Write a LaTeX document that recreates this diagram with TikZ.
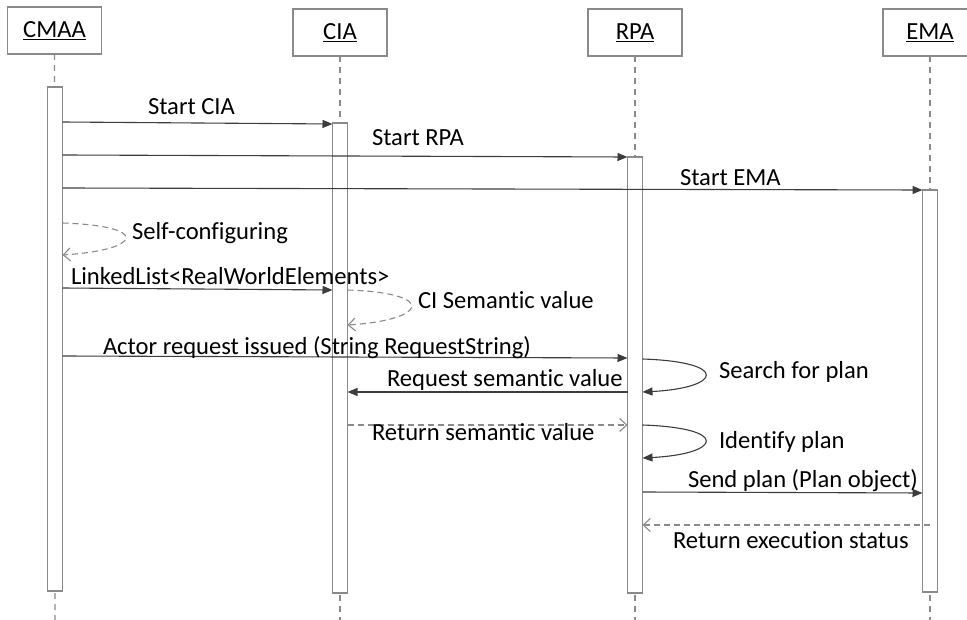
\documentclass[tikz,border=0pt]{standalone}
\usepackage{fontspec}
\setmainfont[Ligatures=NoCommon]{Carlito}
\usetikzlibrary{arrows.meta}
\definecolor{boxgray}{HTML}{8A8A8A}
\definecolor{msggray}{HTML}{3C3C3C}
\begin{document}
\begin{tikzpicture}[x=1pt,y=-1pt,
  every node/.style={font=\fontsize{24.6}{28}\selectfont, inner sep=0pt, outer sep=0pt},
  objbox/.style={draw=boxgray, line width=1.1pt, fill=white, minimum width=94pt, minimum height=47pt},
  actbar/.style={draw=boxgray, line width=1.3pt, fill=white, minimum width=15pt},
  lifeline/.style={draw=boxgray, line width=1.3pt, dash pattern=on 6pt off 5pt},
  msg/.style={draw=msggray, line width=1.1pt, -{Triangle[length=10pt,width=8pt]}},
  selfmsg/.style={draw=msggray, line width=1.1pt, -{Triangle[length=10pt,width=8pt]}},
  reply/.style={draw=boxgray, line width=1.1pt, dash pattern=on 6pt off 4pt, -{Straight Barb[length=7pt,width=13pt]}},
  lbl/.style={anchor=base west, text=black}]
\useasboundingbox (0,0) rectangle (967,620);
\clip (0,0) rectangle (967,620);

% lifeline heads
\node[objbox] (cmaa) at (54.5,30.5) {\underline{CMAA}};
\node[objbox] (cia)  at (340,32.5)  {\underline{CIA}};
\node[objbox] (rpa)  at (635,32.5)  {\underline{RPA}};
\node[objbox] (ema)  at (930,32.5)  {\underline{EMA}};

% lifeline ends
\coordinate (cmaaend) at (55,622);
\coordinate (ciaend)  at (340,622);
\coordinate (rpaend)  at (635,622);
\coordinate (emaend)  at (930,622);

\draw[lifeline] (cmaa.south) -- (cmaaend);
\draw[lifeline] (cia.south)  -- (ciaend);
\draw[lifeline] (rpa.south)  -- (rpaend);
\draw[lifeline] (ema.south)  -- (emaend);

% activation bars
\node[actbar, minimum height=504pt] (cmaabar) at (55,339)  {};
\node[actbar, minimum height=470pt] (ciabar)  at (340,358) {};
\node[actbar, minimum height=436pt] (rpabar)  at (635,375) {};
\node[actbar, minimum height=402pt] (emabar)  at (930,391) {};

% start-up messages
\draw[msg] (cmaabar.east |- 0,122) -- (ciabar.west |- 0,124);
\node[lbl] (l1) at (148,115) {Start CIA};
\draw[msg] (cmaabar.east |- 0,155) -- (rpabar.west |- 0,157);
\node[lbl] (l2) at (372,146) {Start RPA};
\draw[msg] (cmaabar.east |- 0,188) -- (emabar.west |- 0,190);
\node[lbl] (l3) at (680,186) {Start EMA};

% CMAA self call
\draw[reply] (cmaabar.east |- 0,223) .. controls (152,226) and (142,250) .. (cmaabar.east |- 0,255);
\node[lbl] (l4) at (132,240) {Self-configuring};

\draw[msg] (cmaabar.east |- 0,288) -- (ciabar.west |- 0,290);
\node[lbl] (l5) at (71,285) {LinkedList<RealWorldElements>};

% CIA self call
\draw[reply] (ciabar.east |- 0,290) .. controls (438,293) and (428,320) .. (ciabar.east |- 0,325);
\node[lbl] (l6) at (418,309) {CI Semantic value};

\draw[msg] (cmaabar.east |- 0,356) -- (rpabar.west |- 0,358);
\node[lbl] (l7) at (103,355) {Actor request issued (String RequestString)};

\draw[msg] (rpabar.west |- 0,392) -- (ciabar.east |- 0,392);
\node[lbl] (l8) at (387,386) {Request semantic value};

\draw[reply] (ciabar.east |- 0,425) -- (rpabar.west |- 0,425);
\node[lbl] (l9) at (372,440) {Return semantic value};

% RPA self calls
\draw[selfmsg] (rpabar.east |- 0,359) .. controls (731,362) and (721,388) .. (rpabar.east |- 0,392);
\node[lbl] (l10) at (719,378) {Search for plan};
\draw[selfmsg] (rpabar.east |- 0,425) .. controls (731,428) and (721,454) .. (rpabar.east |- 0,458);
\node[lbl] (l11) at (719,448) {Identify plan};

\draw[msg] (rpabar.east |- 0,492) -- (emabar.west |- 0,493);
\node[lbl] (l12) at (688,487) {Send plan (Plan object)};

\draw[reply] (emabar.center |- 0,525) -- (rpabar.east |- 0,525);
\node[lbl] (l13) at (673,548) {Return execution status};
\end{tikzpicture}
\end{document}
